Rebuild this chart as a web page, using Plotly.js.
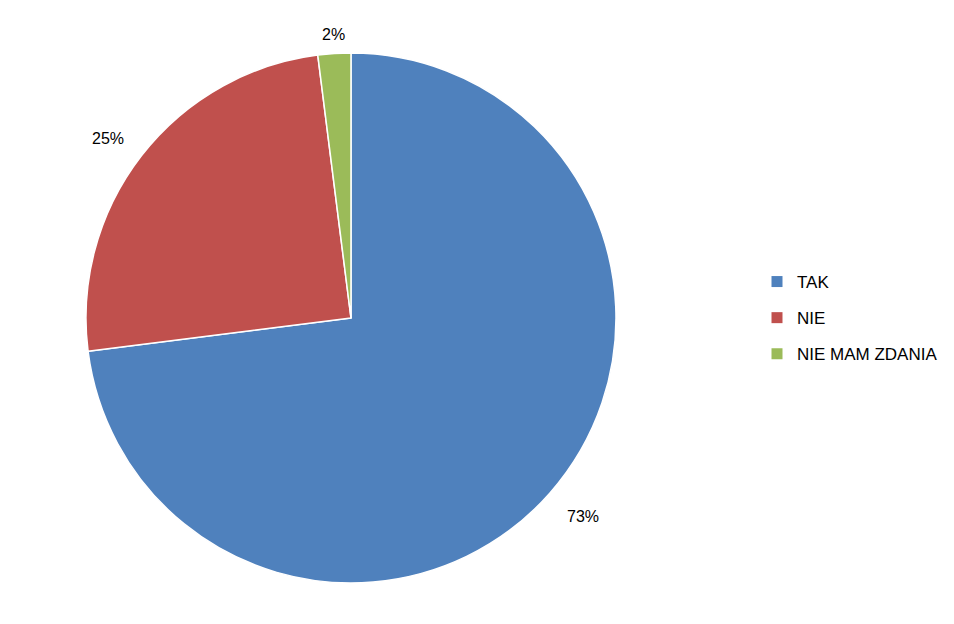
<!DOCTYPE html>
<html>
<head>
<meta charset="utf-8">
<script src="https://cdn.plot.ly/plotly-3.0.1.min.js"></script>
<style>html,body{margin:0;padding:0;background:#fff;}#chart{width:954px;height:624px;}</style>
</head>
<body>
<div id="chart"></div>
<script>
const categories = ["TAK", "NIE", "NIE MAM ZDANIA"];
const values = [73, 25, 2];
const colors = ["#4F81BD", "#C0504D", "#9BBB59"];

const W = 954, H = 624;
const domX = [0.0901, 0.6457];
const domY = [0.0657, 0.9151];
const cx = (domX[0] + domX[1]) / 2 * W;
const cyUp = (domY[0] + domY[1]) / 2 * H;
const r = Math.min((domX[1] - domX[0]) * W, (domY[1] - domY[0]) * H) / 2;
const gap = 14;

const total = values.reduce((a, b) => a + b, 0);
const annotations = [];
let cum = 0;
values.forEach((v, i) => {
  const mid = (cum + v / 2) / total;
  cum += v;
  const th = 2 * Math.PI * mid;
  const ux = Math.sin(th), uy = Math.cos(th);
  const d = r + gap + 8 * Math.abs(ux);
  annotations.push({
    xref: 'paper', yref: 'paper',
    x: (cx + d * ux) / W,
    y: (cyUp + d * uy) / H,
    xanchor: ux > 0.3 ? 'left' : (ux < -0.3 ? 'right' : 'center'),
    yanchor: uy > 0.3 ? 'bottom' : (uy < -0.3 ? 'top' : 'middle'),
    yshift: uy > 0.3 ? -6 : 0,
    text: Math.round(v / total * 100) + '%',
    showarrow: false,
    font: {family: 'Liberation Sans, Arial, sans-serif', size: 16, color: '#000'}
  });
});

const traces = [{
  type: 'pie',
  labels: categories,
  values: values,
  sort: false,
  direction: 'clockwise',
  rotation: 0,
  marker: {colors: colors, line: {color: '#ffffff', width: 1.5}},
  textinfo: 'none',
  hoverinfo: 'label+percent',
  domain: {x: domX, y: domY},
  showlegend: false
}];
categories.forEach((c, i) => {
  traces.push({
    type: 'scatter', mode: 'markers',
    x: [null], y: [null],
    name: c, legendgroup: 'g' + i,
    marker: {symbol: 'square', size: 11, color: colors[i]},
    showlegend: true, hoverinfo: 'skip'
  });
});

const layout = {
  width: W, height: H,
  margin: {l: 0, r: 0, t: 0, b: 0},
  paper_bgcolor: '#ffffff', plot_bgcolor: 'rgba(0,0,0,0)',
  xaxis: {visible: false, domain: [0.9, 1]},
  yaxis: {visible: false, domain: [0.9, 1]},
  showlegend: true,
  legend: {
    x: (797 - 40) / W, xanchor: 'left',
    y: (H - 318) / H, yanchor: 'middle',
    font: {family: 'Liberation Sans, Arial, sans-serif', size: 17, color: '#000'},
    tracegroupgap: 11,
    bgcolor: 'rgba(0,0,0,0)'
  },
  annotations: annotations
};

Plotly.newPlot('chart', traces, layout, {displayModeBar: false});
</script>
</body>
</html>
